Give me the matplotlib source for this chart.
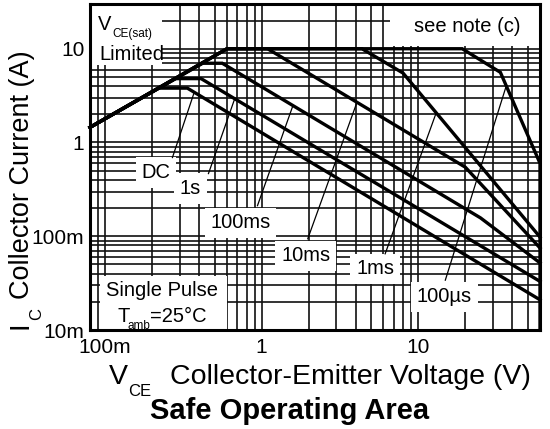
import numpy as np
import matplotlib
matplotlib.use("Agg")
import matplotlib.pyplot as plt
from matplotlib.ticker import FixedLocator, LogLocator, NullFormatter
from matplotlib.patches import Rectangle

plt.rcParams["font.family"] = ["Liberation Sans", "DejaVu Sans"]

#
# SOA curves (V_CE in volts, I_C in amps)
#
dc_v = [0.08, 0.22, 0.335, 60]
dc_i = [1.45, 3.8, 3.8, 0.021]

s1_v = [0.08, 0.28, 0.41, 60]
s1_i = [1.45, 4.8, 4.8, 0.033]

ms100_v = [0.08, 0.42, 0.56, 25, 60]
ms100_i = [1.45, 7.0, 7.0, 0.157, 0.052]

ms10_v = [0.08, 0.6, 1.09, 20, 60]
ms10_i = [1.45, 10, 10, 0.545, 0.075]

ms1_v = [0.08, 0.6, 4.37, 8.0, 60]
ms1_i = [1.45, 10, 10, 5.5, 0.098]

us100_v = [0.08, 0.6, 19.1, 33.5, 60, 60]
us100_i = [1.45, 10, 10, 5.6, 0.6, 0.01]

curves = [(dc_v, dc_i), (s1_v, s1_i), (ms100_v, ms100_i),
          (ms10_v, ms10_i), (ms1_v, ms1_i), (us100_v, us100_i)]

# labels: text, label position (V, I), leader start on curve (V, I)
label_names = ["DC", "1s", "100ms", "10ms", "1ms", "100µs"]
label_pos = [(0.212, 0.478), (0.351, 0.322), (0.733, 0.139),
             (1.91, 0.062), (5.3, 0.045), (14.7, 0.0225)]
leader_from = [(0.37, 3.4), (0.671, 2.9), (1.58, 2.45),
               (4.06, 2.68), (13.0, 2.05), (36.5, 4.0)]
leader_to = [(0.269, 0.691), (0.457, 0.466), (0.94, 0.212),
             (1.97, 0.094), (6.15, 0.065), (14.9, 0.034)]

x_ticks = [0.1, 1, 10]
x_ticklabels = ["100m", "1", "10"]
y_ticks = [0.01, 0.1, 1, 10]
y_ticklabels = ["10m", "100m", "1", "10"]

W, H = 550, 429
fig = plt.figure(figsize=(W / 100, H / 100), dpi=100)
ax = fig.add_axes([90 / W, 1 - 330 / H, 450 / W, 326 / H])
ax.set_xscale("log")
ax.set_yscale("log")
ax.set_xlim(0.08, 60)
ax.set_ylim(0.01, 30)


def px2ax(x, y):
    return (x - 90) / 450, (330 - y) / 326


#
# Grid
#
ax.xaxis.set_major_locator(FixedLocator(x_ticks))
ax.yaxis.set_major_locator(FixedLocator(y_ticks))
ax.xaxis.set_minor_locator(LogLocator(base=10, subs=np.arange(2, 10), numticks=20))
ax.yaxis.set_minor_locator(LogLocator(base=10, subs=np.arange(2, 10), numticks=20))
ax.xaxis.set_minor_formatter(NullFormatter())
ax.yaxis.set_minor_formatter(NullFormatter())
ax.set_xticklabels(x_ticklabels)
ax.set_yticklabels(y_ticklabels)
ax.grid(True, which="both", color="#111111", linewidth=1.2, zorder=0)
ax.set_axisbelow(True)
ax.tick_params(which="both", length=0, labelsize=15)
ax.tick_params(axis="x", pad=6)
ax.tick_params(axis="y", pad=4)
for s in ax.spines.values():
    s.set_linewidth(2.2)
    s.set_color("black")

#
# White boxes
#
def white_box(x0, y0, x1, y1):
    a0 = px2ax(x0, y1)
    a1 = px2ax(x1, y0)
    ax.add_patch(Rectangle(a0, a1[0] - a0[0], a1[1] - a0[1],
                           transform=ax.transAxes, facecolor="white",
                           edgecolor="none", zorder=2))


white_box(92, 5, 162, 65)
white_box(390, 6, 539, 46)
white_box(100, 276, 227, 329)

#
# Curves
#
for v, i in curves:
    ax.plot(v, i, color="black", linewidth=2.4, zorder=5,
            solid_joinstyle="miter", clip_on=False)

for name, pos, p0, p1 in zip(label_names, label_pos, leader_from, leader_to):
    ax.plot([p0[0], p1[0]], [p0[1], p1[1]], color="black", linewidth=0.9, zorder=4)
    ax.text(pos[0], pos[1], name, ha="center", va="center", fontsize=14.5,
            zorder=3, bbox=dict(facecolor="white", edgecolor="none", pad=4))

#
# In-plot notes
#
ax.text(*px2ax(98, 24), "V", fontsize=14.5, ha="left", va="center",
        transform=ax.transAxes, zorder=3)
ax.text(*px2ax(112, 34), "CE(sat)", fontsize=8.5, ha="left", va="center",
        transform=ax.transAxes, zorder=3)
ax.text(*px2ax(99, 55), "Limited", fontsize=14.5, ha="left", va="center",
        transform=ax.transAxes, zorder=3)
ax.text(*px2ax(467, 27), "see note (c)", fontsize=14.5, ha="center", va="center",
        transform=ax.transAxes, zorder=3)
ax.text(*px2ax(162, 290), "Single Pulse", fontsize=14.5, ha="center", va="center",
        transform=ax.transAxes, zorder=3)
ax.text(*px2ax(118, 316), "T", fontsize=14.5, ha="left", va="center",
        transform=ax.transAxes, zorder=3)
ax.text(*px2ax(128, 326), "amb", fontsize=8.5, ha="left", va="center",
        transform=ax.transAxes, zorder=3)
ax.text(*px2ax(150, 316), "=25°C", fontsize=14.5, ha="left", va="center",
        transform=ax.transAxes, zorder=3)

#
# Axis labels and title
#
fig.text(20 / W, 1 - 325 / H, "I", fontsize=20, rotation=90,
         ha="center", va="center")
fig.text(37 / W, 1 - 314 / H, "C", fontsize=12, rotation=90,
         ha="center", va="center")
fig.text(22 / W, 1 - 175 / H, "Collector Current (A)", fontsize=19.5, rotation=90,
         ha="center", va="center")

fig.text(109 / W, 1 - 377 / H, "V", fontsize=20.5, ha="left", va="center")
fig.text(128 / W, 1 - 392 / H, "CE", fontsize=12, ha="left", va="center")
fig.text(170 / W, 1 - 377 / H, "Collector-Emitter Voltage (V)", fontsize=20.5,
         ha="left", va="center")
fig.text(290 / W, 1 - 411 / H, "Safe Operating Area", fontsize=21,
         fontweight="bold", ha="center", va="center")

fig.savefig("out.png", dpi=100)
